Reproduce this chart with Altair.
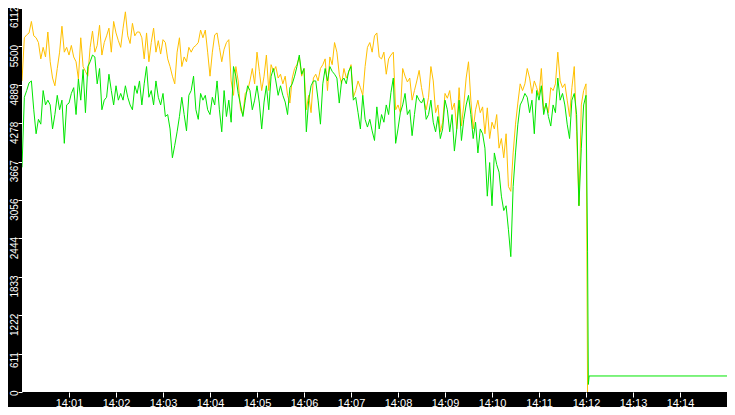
import altair as alt
import pandas as pd

# samples every 3 s from 14:00:00 to 14:12:00
START = "2024-01-01 14:00:00"
STEP = "3s"

ORANGE = [
    4951, 5638, 5684, 5715, 5898, 5669, 5638, 5562, 5302, 5486,
    5333, 5730, 5256, 4997, 4874, 5149, 5409, 5822, 5409, 5486,
    5363, 5516, 5333, 5256, 4981, 5638, 5180, 5104, 5027, 5486,
    5745, 5409, 5516, 5837, 5363, 5562, 5669, 5791, 5409, 5898,
    5715, 5592, 5486, 5791, 6051, 5669, 5547, 5868, 5669, 5730,
    5730, 5638, 5302, 5715, 5256, 5562, 5791, 5409, 5592, 5379,
    5608, 5562, 5302, 5180, 5027, 4905, 5409, 5638, 5180, 5333,
    5256, 5486, 5409, 5486, 5516, 5562, 5761, 5638, 5761, 5409,
    5027, 5409, 5684, 5715, 5486, 5256, 5455, 5562, 5608, 4951,
    4722, 5180, 4951, 4492, 4416, 4752, 4798, 4951, 5149, 4905,
    5409, 5104, 4798, 5027, 5363, 4798, 5210, 5104, 5180, 4997,
    5058, 4905, 5027, 4722, 4599, 4997, 5149, 5210, 5333, 5027,
    5149, 4492, 4722, 4446, 4997, 5058, 4951, 5149, 5210, 5302,
    4798, 5333, 5210, 5562, 5409, 5058, 4905, 5149, 4997, 5088,
    5210, 4691, 4798, 4951, 4844, 4722, 5180, 5486, 5562, 5409,
    5669, 5715, 5333, 5302, 5409, 5058, 5302, 5363, 5409, 4492,
    4569, 4446, 5149, 5027, 4935, 4997, 4645, 4798, 4951, 5119,
    4844, 4645, 4492, 4691, 5180, 4951, 4446, 4569, 4141, 4294,
    4752, 4676, 4798, 4492, 4599, 4187, 4844, 4233, 4569, 4997,
    5256, 4645, 4187, 4492, 4645, 4446, 4538, 4110, 4523, 4034,
    4294, 4187, 4416, 3881, 4034, 3728, 4110, 3270, 3194, 3805,
    4263, 4599, 4905, 4798, 4905, 5149, 4997, 4752, 4951, 4844,
    4722, 5149, 4492, 4569, 4446, 4844, 4798, 4905, 5409, 4951,
    4844, 4905, 4645, 4385, 4844, 5180, 4141, 2964, 4569, 4798,
    4905,
]

GREEN = [
    3576, 4691, 4798, 4920, 4951, 4492, 4110, 4340, 4263, 4798,
    4569, 4645, 4569, 4187, 4416, 4722, 4492, 4645, 3958, 4569,
    4599, 4752, 4844, 4416, 4981, 4645, 5134, 4446, 5180, 5256,
    5363, 5333, 4905, 5149, 4492, 4645, 4691, 5058, 4798, 4569,
    4874, 4645, 4752, 4645, 4874, 4691, 4569, 4492, 4874, 4752,
    4951, 4569, 4905, 5180, 4691, 4798, 4569, 4951, 4691, 4569,
    4752, 4385, 4416, 4187, 3728, 3927, 4141, 4385, 4691, 4416,
    4156, 4722, 4798, 5027, 4492, 4340, 4752, 4645, 4722, 4492,
    4416, 4691, 4569, 4951, 4492, 4141, 4798, 4385, 4645, 4294,
    5180, 5027, 4752, 4569, 4385, 4645, 4874, 4798, 4492, 4645,
    4874, 4599, 4187, 4615, 4874, 4492, 5027, 5149, 4951, 4722,
    4874, 4722, 4615, 4416, 4844, 4905, 5027, 5180, 5363, 5058,
    5149, 4141, 4645, 4874, 4951, 4951, 4645, 4263, 4905, 5149,
    4951, 5180, 5104, 5058, 4997, 4599, 4951, 4997, 4905, 5104,
    5180, 4645, 4691, 4446, 4187, 4722, 4340, 4217, 4340, 4156,
    4003, 4538, 4187, 4416, 4294, 4569, 4416, 4767, 4997, 3958,
    4187, 4446, 4569, 4752, 4416, 4492, 4080, 4416, 4722, 4645,
    4599, 4676, 4340, 4416, 4645, 4294, 4141, 4385, 4034, 4187,
    4645, 4492, 4141, 4416, 3835, 4187, 4645, 4003, 4340, 4569,
    4722, 4416, 4034, 4294, 3805, 4187, 4110, 3881, 3117, 3652,
    2964, 3805, 3621, 3499, 3117, 2888, 2964, 2582, 2154, 3270,
    3805, 4263, 4569, 4645, 4752, 4691, 4446, 4645, 4110, 4798,
    4645, 4874, 4416, 4599, 4385, 4233, 4569, 4446, 4997, 4645,
    4752, 4569, 4263, 4034, 4645, 4752, 4416, 2964, 3881, 4569,
    4722,
]

# after the feed drops at 14:12
ORANGE_TAIL_TIMES = ["14:12:02"]
ORANGE_TAIL = [0]
GREEN_TAIL_TIMES = ["14:12:02", "14:12:03", "14:12:04", "14:15:00"]
GREEN_TAIL = [2230, 120, 255, 255]

Y_TICKS = [0, 611, 1222, 1833, 2444, 3056, 3667, 4278, 4889, 5500, 6112]
X_TICK_MINUTES = list(range(1, 15))


def series_frame(values, tail_times, tail_values):
    times = list(pd.date_range(START, periods=len(values), freq=STEP))
    times += [pd.Timestamp("2024-01-01 " + t) for t in tail_times]
    return pd.DataFrame({"time": times, "value": list(values) + list(tail_values)})


orange_df = series_frame(ORANGE, ORANGE_TAIL_TIMES, ORANGE_TAIL)
green_df = series_frame(GREEN, GREEN_TAIL_TIMES, GREEN_TAIL)

x_scale = alt.Scale(domain=[alt.DateTime(year=2024, month=1, date=1, hours=14, minutes=0),
                            alt.DateTime(year=2024, month=1, date=1, hours=14, minutes=15)])
y_scale = alt.Scale(domain=[0, 6112], nice=False, zero=True)

x_axis = alt.Axis(
    values=[alt.DateTime(year=2024, month=1, date=1, hours=14, minutes=m) for m in X_TICK_MINUTES],
    format="%H:%M",
    title=None,
    grid=False,
    domain=False,
    tickColor="white",
    tickSize=5,
    labelColor="white",
    labelFont="Liberation Sans",
    labelFontSize=11,
    labelPadding=0,
    labelOverlap=False,
)

y_axis = alt.Axis(
    values=Y_TICKS,
    format="d",
    title=None,
    grid=False,
    domain=False,
    tickColor="white",
    tickSize=4,
    labelColor="white",
    labelFont="Liberation Sans",
    labelFontSize=10,
    labelAngle=270,
    labelAlign="right",
    labelBaseline="alphabetic",
    labelPadding=1,
    labelOffset=-2,
    labelOverlap=False,
)


def line(df, color):
    return alt.Chart(df).mark_line(color=color, strokeWidth=1, clip=True).encode(
        x=alt.X("time:T", scale=x_scale, axis=x_axis),
        y=alt.Y("value:Q", scale=y_scale, axis=y_axis),
    )


# whole svg is 719 x 399 so the page (8px margin) fits the 735 x 415 window
chart = alt.layer(
    line(orange_df, "#ffc000"),
    line(green_df, "#00e600"),
).properties(
    width=705,
    height=384,
    background="black",
    padding={"left": 14, "top": 0, "right": 0, "bottom": 15},
    autosize=alt.AutoSizeParams(type="none"),
).configure_view(
    fill="white",
    strokeWidth=0,
)

chart.save("out.html", embed_options={"renderer": "svg", "actions": False})
